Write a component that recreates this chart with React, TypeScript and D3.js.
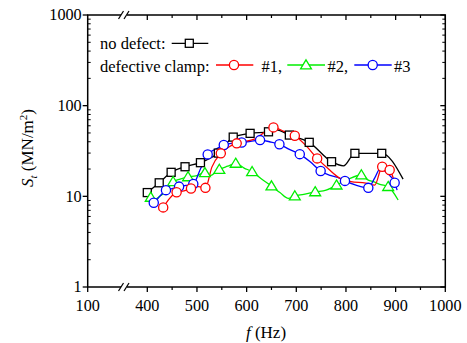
import React from "react";
import * as d3 from "d3";

const W = 467, H = 343;

// data
const blackF = [400, 424, 448, 476, 507, 543, 573, 607, 644, 660, 686, 726, 771, 795, 818, 848, 872, 915];
const blackS = [11, 14.1, 18.4, 21.2, 23.5, 30, 45, 49.5, 51.5, 54, 47.4, 39.4, 24.1, 21.7, 29.8, 29.8, 29.8, 15.5];
const blackMarkF = [400, 424, 448, 476, 507, 543, 573, 607, 644, 686, 726, 771, 818, 872];

const redF = [432, 445, 459, 474, 488, 503, 517, 530, 548, 564, 580, 617, 654, 675, 697, 720, 742, 765, 788, 810, 840, 858, 873, 888, 900];
const redS = [7.55, 9.5, 11.1, 11.5, 12.2, 12.8, 12.4, 21, 29.8, 35, 38.4, 43, 57.6, 52, 46.6, 36, 26.2, 20, 15.8, 14.5, 14, 13.3, 21.2, 19.5, 13];
const redMarkF = [432, 459, 488, 517, 548, 580, 654, 697, 742, 873, 888];

const greenF = [397, 407, 415, 425, 437, 452, 466, 482, 498, 516, 526, 545, 562, 578, 595, 611, 630, 650, 667, 684, 697, 715, 738, 760, 781, 805, 831, 845, 855, 870, 885, 905];
const greenS = [9.1, 9.75, 9.2, 10, 11.2, 14.5, 15.5, 16.4, 16.8, 18.2, 16.9, 19.8, 21.5, 23.1, 20.5, 18.7, 15.5, 13.0, 11, 9.5, 10.1, 10.5, 11.2, 11.7, 13.3, 15.5, 17.2, 15.1, 14.5, 13.5, 12.8, 9.1];
const greenMarkF = [407, 452, 482, 516, 545, 578, 611, 650, 697, 738, 781, 831, 885];

const blueF = [405, 413, 425, 437.6, 450, 464, 478, 492.6, 507, 521.6, 537, 554, 572, 590, 608, 627, 646, 666, 686, 707, 728, 749, 768, 788, 798, 820, 845, 858, 869, 883, 898, 903];
const blueS = [8.4, 8.5, 10, 11.7, 12.2, 12.8, 13.2, 13.7, 20, 29, 33, 36.8, 38.5, 39.3, 40.5, 41.7, 40, 37.5, 33, 29.2, 24, 19, 17, 15.8, 14.8, 13.3, 12.4, 16, 20.2, 18, 14.1, 11.7];
const blueMarkF = [413, 437.6, 464, 492.6, 521.6, 554, 590, 627, 666, 707, 749, 798, 845, 898];

const xTickLabels = [100, 400, 500, 600, 700, 800, 900, 1000];
const xMinorTicks = [450, 550, 650, 750, 850, 950];
const yTickLabels = [1, 10, 100, 1000];

const x = d3.scaleLinear().domain([100, 400, 1000]).range([87.7, 147.3, 445.3]);
const y = d3.scaleLog().domain([1, 1000]).range([287, 15]);

const L = 87.7, R = 445.3, T = 15, B = 287;
const FONT = "Liberation Serif, Times New Roman, Times, DejaVu Serif, serif";
const FS = 16.2;

function interp(fArr: number[], sArr: number[], f: number) {
  const i = fArr.indexOf(f);
  if (i >= 0) return sArr[i];
  return sArr[d3.minIndex(fArr, (v) => Math.abs(v - f))];
}

function Marker({ type, cx, cy, color }: { type: string; cx: number; cy: number; color: string }) {
  if (type === "square")
    return <rect x={cx - 4} y={cy - 4} width={8} height={8} fill="white" stroke={color} strokeWidth={1.3} />;
  if (type === "circle")
    return <circle cx={cx} cy={cy} r={4.6} fill="white" stroke={color} strokeWidth={1.3} />;
  const s = 5.2;
  return (
    <path
      d={`M${cx},${cy - s}L${cx + s * 1.05},${cy + s * 0.75}L${cx - s * 1.05},${cy + s * 0.75}Z`}
      fill="white"
      stroke={color}
      strokeWidth={1.3}
    />
  );
}

const series = [
  { f: blackF, s: blackS, m: blackMarkF, color: "#000000", type: "square" },
  { f: greenF, s: greenS, m: greenMarkF, color: "#00ee00", type: "triangle" },
  { f: blueF, s: blueS, m: blueMarkF, color: "#0000ff", type: "circle" },
  { f: redF, s: redS, m: redMarkF, color: "#ff0000", type: "circle" },
];

export default function App() {
  const line = d3
    .line<[number, number]>()
    .x((d) => x(d[0]))
    .y((d) => y(d[1]))
    .curve(d3.curveMonotoneX);

  const minorY: number[] = [];
  for (let dec = 1; dec < 1000; dec *= 10) for (let k = 2; k <= 9; k++) minorY.push(dec * k);

  const txt = { fontFamily: FONT };

  return (
    <svg width={W} height={H} style={{ position: "absolute", left: 0, top: 0, background: "white", fontFamily: FONT }}>
      {series.map((se, i) => (
        <path
          key={"l" + i}
          d={line(se.f.map((f, j) => [f, se.s[j]] as [number, number])) || ""}
          fill="none"
          stroke={se.color}
          strokeWidth={1.3}
        />
      ))}
      {series.map((se, i) =>
        se.m.map((f, j) => (
          <Marker key={"m" + i + "-" + j} type={se.type} cx={x(f)} cy={y(interp(se.f, se.s, f))} color={se.color} />
        ))
      )}

      <rect x={L} y={T} width={R - L} height={B - T} fill="none" stroke="#000" strokeWidth={1.5} />

      {xTickLabels.map((v) => (
        <g key={"xb" + v}>
          <line x1={x(v)} x2={x(v)} y1={B} y2={B + 5} stroke="#000" strokeWidth={1.3} />
          {v !== 100 && <line x1={x(v)} x2={x(v)} y1={T} y2={T + 5} stroke="#000" strokeWidth={1.3} />}
          <text x={x(v)} y={B + 23.5} textAnchor="middle" style={txt} fontSize={FS}>
            {v}
          </text>
        </g>
      ))}
      {xMinorTicks.map((v) => (
        <g key={"xm" + v}>
          <line x1={x(v)} x2={x(v)} y1={B} y2={B + 3} stroke="#000" strokeWidth={1.2} />
          <line x1={x(v)} x2={x(v)} y1={T} y2={T + 3} stroke="#000" strokeWidth={1.2} />
        </g>
      ))}

      {yTickLabels.map((v) => (
        <g key={"y" + v}>
          <line x1={L - 5} x2={L} y1={y(v)} y2={y(v)} stroke="#000" strokeWidth={1.3} />
          <line x1={R - 5} x2={R} y1={y(v)} y2={y(v)} stroke="#000" strokeWidth={1.3} />
          <text x={L - 6} y={y(v) + 5.2} textAnchor="end" style={txt} fontSize={FS}>
            {v}
          </text>
        </g>
      ))}
      {minorY.map((v) => (
        <g key={"ym" + v}>
          <line x1={L} x2={L + 3} y1={y(v)} y2={y(v)} stroke="#000" strokeWidth={1} />
          <line x1={R - 3} x2={R} y1={y(v)} y2={y(v)} stroke="#000" strokeWidth={1} />
        </g>
      ))}

      {[B, T].map((yy) => (
        <g key={"br" + yy}>
          <rect x={121} y={yy - 4} width={6} height={8} fill="white" />
          <line x1={118.5} x2={123.5} y1={yy + 4} y2={yy - 4} stroke="#000" strokeWidth={1.2} />
          <line x1={124} x2={129} y1={yy + 4} y2={yy - 4} stroke="#000" strokeWidth={1.2} />
        </g>
      ))}

      <text x={266} y={337.5} textAnchor="middle" style={txt} fontSize={17}>
        <tspan fontStyle="italic">f</tspan>
        <tspan> (Hz)</tspan>
      </text>
      <text transform="translate(33,148) rotate(-90)" textAnchor="middle" style={txt} fontSize={17}>
        <tspan fontStyle="italic">S</tspan>
        <tspan fontStyle="italic" fontSize={11} dy={4}>t</tspan>
        <tspan dy={-4}> (MN/m</tspan>
        <tspan fontSize={11} dy={-6}>2</tspan>
        <tspan dy={6}>)</tspan>
      </text>

      <text x={100} y={48.5} style={txt} fontSize={16.5}>no defect:</text>
      <line x1={171.7} x2={208.3} y1={43.3} y2={43.3} stroke="#000" strokeWidth={1.3} />
      <Marker type="square" cx={189.3} cy={43.3} color="#000" />

      <text x={100} y={71.5} style={txt} fontSize={16.5}>defective clamp:</text>
      <line x1={216} x2={253.3} y1={65} y2={65} stroke="#ff0000" strokeWidth={1.3} />
      <Marker type="circle" cx={234} cy={65} color="#ff0000" />
      <text x={261.5} y={71.5} style={txt} fontSize={16.5}>#1,</text>
      <line x1={287.3} x2={325} y1={65} y2={65} stroke="#00ee00" strokeWidth={1.3} />
      <Marker type="triangle" cx={306} cy={65} color="#00ee00" />
      <text x={327.5} y={71.5} style={txt} fontSize={16.5}>#2,</text>
      <line x1={354.3} x2={391.7} y1={65} y2={65} stroke="#0000ff" strokeWidth={1.3} />
      <Marker type="circle" cx={372.7} cy={65} color="#0000ff" />
      <text x={394} y={71.5} style={txt} fontSize={16.5}>#3</text>
    </svg>
  );
}
